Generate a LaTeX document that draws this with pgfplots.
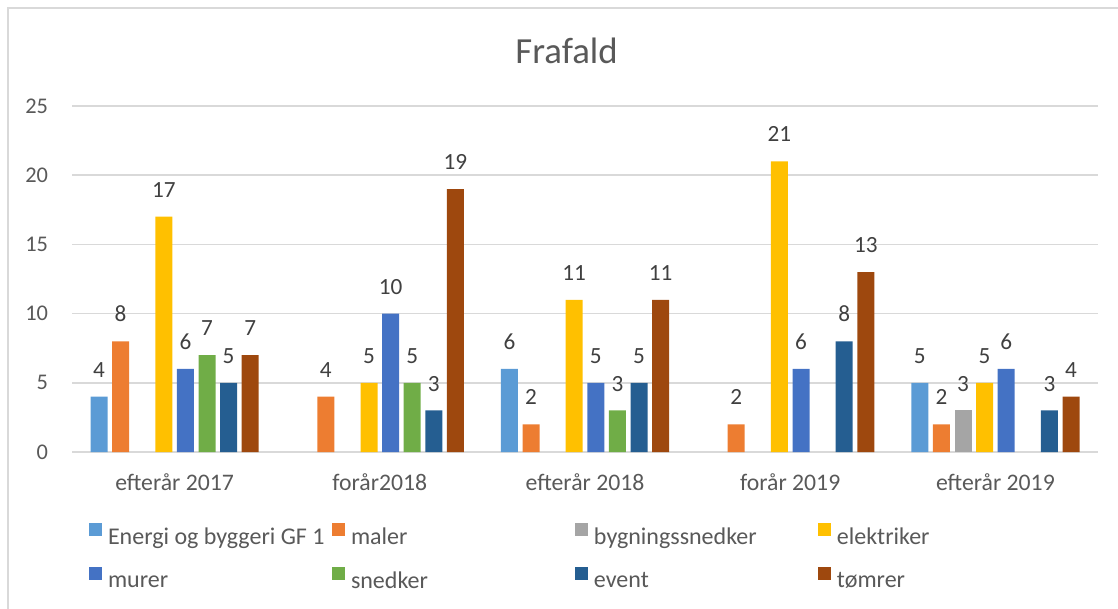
\documentclass[border=0pt]{standalone}
\usepackage{pgfplots}
\pgfplotsset{compat=1.18}
\usepackage{fontspec}
\setmainfont{Carlito}
\definecolor{cA}{HTML}{5B9BD5}
\definecolor{cB}{HTML}{ED7D31}
\definecolor{cC}{HTML}{A5A5A5}
\definecolor{cD}{HTML}{FFC000}
\definecolor{cE}{HTML}{4472C4}
\definecolor{cF}{HTML}{70AD47}
\definecolor{cG}{HTML}{255E91}
\definecolor{cH}{HTML}{9E480E}
\definecolor{gridc}{HTML}{D9D9D9}
\definecolor{txt}{HTML}{595959}
\definecolor{lbl}{HTML}{404040}
\newcommand{\lgd}[1]{\makebox[168pt][l]{\rule[-4pt]{0pt}{14.5pt}#1}}
\begin{document}
\begin{tikzpicture}
\useasboundingbox (0,0) rectangle (838.5pt,456pt);
\draw[color=gridc, line width=1.1pt] (6pt,-5pt) -- (6pt,450pt) -- (845pt,450pt);
\node[anchor=base, inner sep=0pt, font=\fontsize{27.6}{32}\selectfont, text=txt] at (424.9pt,408.5pt) {Frafald};
\begin{axis}[
  at={(54pt,117pt)}, anchor=south west,
  scale only axis, width=769.5pt, height=259.5pt,
  xmin=-0.5, xmax=4.5, ymin=0, ymax=25,
  ytick={0,5,...,25}, xtick={0,...,4},
  xticklabels={efterår 2017, forår2018, efterår 2018, forår 2019, efterår 2019},
  ymajorgrids, major grid style={gridc, line width=1.1pt},
  axis line style={draw=none}, major tick length=0pt,
  /pgf/number format/assume math mode=true,
  yticklabel style={anchor=east, inner sep=0pt, xshift=-17.8pt, font=\fontsize{16.8}{19}\selectfont, text=txt},
  xticklabel style={anchor=base, inner sep=0pt, yshift=-28.5pt, font=\fontsize{17.8}{20}\selectfont, text=txt},
  ybar=3.45pt, bar width=12.75pt,
  clip=false,
  nodes near coords,
  nodes near coords style={anchor=base, inner sep=0pt, yshift=14.6pt, font=\fontsize{17.4}{20}\selectfont, text=lbl},
  legend columns=4,
  legend style={at={(0.01657,-0.2052)}, anchor=north west, draw=none, inner sep=0pt, outer sep=0pt,
    nodes={inner sep=0pt}, row sep=15.25pt,
    font=\fontsize{18}{21}\selectfont, text=txt,
    /tikz/every odd column/.style={column sep=4.5pt}},
  legend image code/.code={\path[#1, draw=none] (0pt,0.93pt) rectangle (9.75pt,10.68pt);},
]
\addplot[fill=cA, draw=none] coordinates {(0,4) (2,6) (4,5)};
\addlegendentry{\lgd{Energi og byggeri GF 1}}
\addplot[fill=cB, draw=none] coordinates {(0,8) (1,4) (2,2) (3,2) (4,2)};
\addlegendentry{\lgd{maler}}
\addplot[fill=cC, draw=none] coordinates {(4,3)};
\addlegendentry{\lgd{bygningssnedker}}
\addplot[fill=cD, draw=none] coordinates {(0,17) (1,5) (2,11) (3,21) (4,5)};
\addlegendentry{\lgd{elektriker}}
\addplot[fill=cE, draw=none] coordinates {(0,6) (1,10) (2,5) (3,6) (4,6)};
\addlegendentry{\lgd{murer}}
\addplot[fill=cF, draw=none] coordinates {(0,7) (1,5) (2,3)};
\addlegendentry{\lgd{snedker}}
\addplot[fill=cG, draw=none] coordinates {(0,5) (1,3) (2,5) (3,8) (4,3)};
\addlegendentry{\lgd{event}}
\addplot[fill=cH, draw=none] coordinates {(0,7) (1,19) (2,11) (3,13) (4,4)};
\addlegendentry{\lgd{tømrer}}
\end{axis}
\end{tikzpicture}
\end{document}
